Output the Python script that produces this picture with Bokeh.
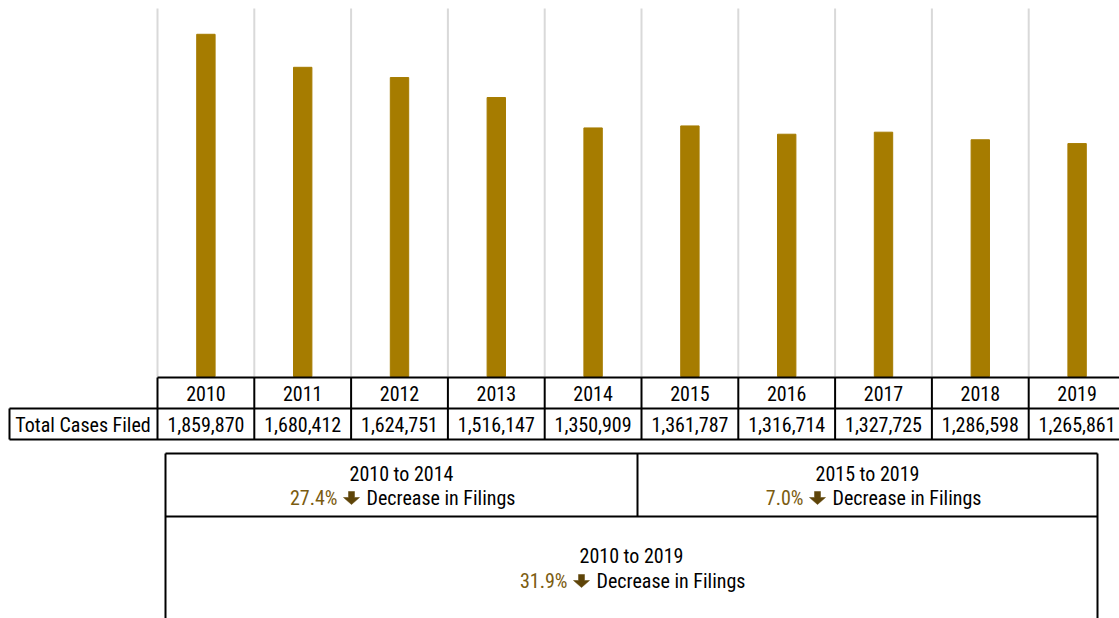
from bokeh.plotting import figure
from bokeh.models import ColumnDataSource, Range1d
from bokeh.core.properties import value
from bokeh.embed import file_html
from bokeh.resources import INLINE

# ---- data ----
years = ["2010", "2011", "2012", "2013", "2014", "2015", "2016", "2017", "2018", "2019"]
filed = [1859870, 1680412, 1624751, 1516147, 1350909, 1361787, 1316714, 1327725, 1286598, 1265861]
row_label = "Total Cases Filed"
periods = ["2010 to 2014", "2015 to 2019", "2010 to 2019"]
pct_change = ["27.4%", "7.0%", "31.9%"]
change_text = "Decrease in Filings"

# ---- layout helpers (canvas pixels -> data) ----
W, H = 1119, 618
COL = 96.8            # px per year column
X0 = 157              # x of first column edge
YMAX = 2000000
BASE = 376            # y of zero line
K = (BASE - 8) / YMAX  # px per unit


def X(px):
    return -0.5 + (px - X0) / COL


def Y(py):
    return (BASE - py) / K


FONT = value("'Roboto Condensed', 'Liberation Sans Narrow', 'Arial Narrow', sans-serif")
FS = "20px"
GOLD = "#A67C00"
PCT = "#7B5C10"
ARROW = "#5E4408"

p = figure(width=W, height=H, output_backend="svg", toolbar_location=None,
           x_range=Range1d(X(0), X(W)), y_range=Range1d(Y(H), Y(0)),
           min_border=0)
p.axis.visible = False
p.grid.visible = False
p.outline_line_color = None

n = len(years)
idx = list(range(n))
edges = [i - 0.5 for i in range(n + 1)]

# vertical grid lines
p.segment(x0=edges, x1=edges, y0=[0] * len(edges), y1=[YMAX] * len(edges),
          line_color="#d9d9d9", line_width=2)

# bars
p.vbar(x=idx, top=filed, width=0.19, bottom=0, fill_color=GOLD, line_color=GOLD)

# ---- table ----
lc = "black"
lw = 2
right = edges[-1]
p.segment(x0=[edges[0], X(9), X(9)], x1=[right, right, right],
          y0=[Y(377), Y(408), Y(439)], y1=[Y(377), Y(408), Y(439)],
          line_color=lc, line_width=lw)
p.segment(x0=edges, x1=edges, y0=[Y(377)] * len(edges), y1=[Y(439)] * len(edges),
          line_color=lc, line_width=lw)
p.segment(x0=[X(9)], x1=[X(9)], y0=[Y(408)], y1=[Y(439)], line_color=lc, line_width=lw)

tsrc = ColumnDataSource(dict(x=idx, y1=[Y(392.5)] * n, y2=[Y(424)] * n,
                             yr=years, val=[f"{v:,}" for v in filed]))
p.text(x="x", y="y1", text="yr", source=tsrc, text_font=FONT, text_font_size=FS,
       text_align="center", text_baseline="middle", text_color="black")
p.text(x="x", y="y2", text="val", source=tsrc, text_font=FONT, text_font_size=FS,
       text_align="center", text_baseline="middle", text_color="black")
p.text(x=[X(82.5)], y=[Y(424)], text=[row_label], text_font=FONT, text_font_size=FS,
       text_align="center", text_baseline="middle", text_color="black")

# ---- summary box ----
bl, bm, br = 165, 637, 1097
p.segment(x0=[X(bl), X(bl)], x1=[X(br), X(br)], y0=[Y(453), Y(516)], y1=[Y(453), Y(516)],
          line_color=lc, line_width=lw)
p.segment(x0=[X(bl), X(br), X(bm)], x1=[X(bl), X(br), X(bm)],
          y0=[Y(453), Y(453), Y(453)], y1=[Y(640), Y(640), Y(516)],
          line_color=lc, line_width=lw)

cpx = [(bl + bm) / 2, (bm + br) / 2, (bl + br) / 2]
cx = [X(c) for c in cpx]
l1px = [473, 473, 555]
l2px = [497, 497, 580]

p.text(x=cx, y=[Y(v) for v in l1px], text=periods, text_font=FONT, text_font_size=FS,
       text_align="center", text_baseline="middle", text_color="black")
p.text(x=[X(c - 64) for c in cpx], y=[Y(v) for v in l2px], text=pct_change, text_font=FONT,
       text_font_size=FS, text_align="right", text_baseline="middle", text_color=PCT)
p.text(x=[X(c - 35) for c in cpx], y=[Y(v) for v in l2px], text=[change_text] * 3,
       text_font=FONT, text_font_size=FS, text_align="left", text_baseline="middle",
       text_color="black")

# down arrows (decorative glyph)
axs, ays = [], []
for c, ly in zip(cpx, l2px):
    ac, top = c - 50, ly - 6
    pts = [(ac - 3, top), (ac + 3, top), (ac + 3, top + 6), (ac + 8, top + 6),
           (ac, top + 13), (ac - 8, top + 6), (ac - 3, top + 6)]
    axs.append([X(a) for a, b in pts])
    ays.append([Y(b) for a, b in pts])
p.patches(xs=axs, ys=ays, fill_color=ARROW, line_color=ARROW, line_width=0.5)

open("out.html", "w").write(file_html(p, INLINE))
